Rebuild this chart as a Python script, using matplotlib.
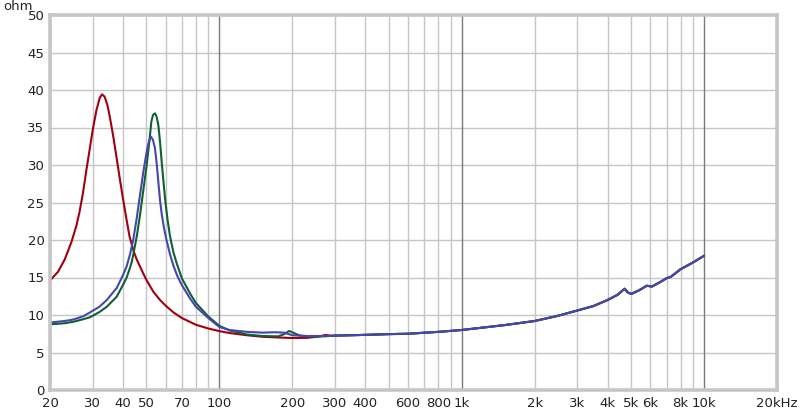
import matplotlib
matplotlib.use("Agg")
import matplotlib.pyplot as plt
from matplotlib.ticker import FixedLocator, NullFormatter

# ---- data ----
hf_freq = [300, 400, 500, 600, 800, 1000, 1500, 2000, 2500, 3000, 3500, 4000,
           4400, 4700, 4850, 5000, 5400, 5800, 6100, 6600, 7000, 7300, 8000, 9000, 10000]
hf_ohm = [7.25, 7.35, 7.45, 7.5, 7.75, 8.0, 8.65, 9.2, 9.9, 10.6, 11.2, 12.0,
          12.7, 13.5, 13.0, 12.8, 13.3, 13.9, 13.8, 14.4, 14.9, 15.1, 16.1, 17.0, 17.9]

red_freq = [20.1, 21.6, 23.0, 24.5, 25.7, 26.5, 27.4, 28.25, 29.2, 30.1, 31.1, 32.1,
            32.8, 33.6, 34.5, 35.3, 36.4, 37.6, 38.8, 40.0, 41.3, 42.6, 44.4, 45.6,
            48.4, 50.0, 53.4, 56.9, 60.0, 64.6, 70.0, 80.0, 90.0, 100, 110, 130,
            150, 175, 200, 230, 260, 275, 290]
red_ohm = [14.67, 15.78, 17.4, 19.7, 21.9, 23.8, 26.4, 29.3, 32.22, 34.89, 37.33, 38.98,
           39.42, 39.11, 38.0, 36.44, 34.0, 31.11, 28.22, 25.56, 22.89, 20.44, 18.4, 17.4,
           15.6, 14.67, 13.1, 12.0, 11.25, 10.35, 9.6, 8.7, 8.2, 7.85, 7.6, 7.3,
           7.1, 7.0, 6.93, 6.95, 7.15, 7.35, 7.2]

green_freq = [20, 23, 25, 27.5, 29.25, 32, 34.3, 37.7, 40.0, 41.44, 42.78, 43.5, 44.15, 45.58,
              47.04, 48.56, 50.12, 51.4, 52.39, 53.21, 54.23, 55.1, 55.98, 56.88, 57.79,
              58.71, 59.66, 61.0, 62.55, 64.57, 66.65, 70.0, 75.6, 80.0, 90.0,
              100, 110, 130, 150, 175, 185, 194, 203, 215, 240, 270]
green_ohm = [8.75, 8.9, 9.1, 9.45, 9.7, 10.4, 11.1, 12.44, 14.0, 15.0, 16.3, 17.1, 18.1, 20.44,
             23.33, 26.67, 30.0, 33.11, 35.78, 36.67, 36.89, 36.44, 35.33, 33.11, 30.44,
             28.0, 25.56, 22.89, 20.5, 18.4, 16.9, 14.89, 12.89, 11.6, 9.8,
             8.55, 7.95, 7.4, 7.2, 7.15, 7.45, 7.87, 7.6, 7.25, 7.1, 7.15]

blue_freq = [20, 23, 25, 27.5, 29.25, 32, 34.3, 37.7, 40.0, 41.44, 42.78, 44.15, 45.58,
             47.04, 48.56, 50.12, 51.22, 52.21, 53.21, 54.23, 55.1, 55.98, 56.88, 57.79,
             59.08, 60.6, 62.55, 64.57, 67.07, 70.0, 75.6, 80.0, 90.0, 100, 110, 130,
             150, 170, 185, 200, 230, 260]
blue_ohm = [9.0, 9.2, 9.4, 9.85, 10.35, 11.1, 12.0, 13.6, 15.3, 16.5, 18.1, 20.1, 22.89,
            26.0, 29.11, 31.78, 33.2, 33.78, 33.33, 32.22, 30.22, 27.78, 25.33, 23.5,
            21.6, 19.9, 18.1, 16.6, 15.2, 14.0, 12.22, 11.1, 9.6, 8.4, 8.0, 7.75,
            7.65, 7.7, 7.65, 7.3, 7.2, 7.2]

x_ticks = [20, 30, 40, 50, 70, 100, 200, 300, 400, 600, 800, 1000,
           2000, 3000, 4000, 5000, 6000, 8000, 10000, 20000]
x_tick_labels = ["20", "30", "40", "50", "70", "100", "200", "300", "400", "600", "800", "1k",
                 "2k", "3k", "4k", "5k", "6k", "8k", "10k", "20kHz"]
y_ticks = [0, 5, 10, 15, 20, 25, 30, 35, 40, 45, 50]

series = [
    (red_freq + hf_freq, red_ohm + hf_ohm, "#a00010"),
    (green_freq + hf_freq, green_ohm + hf_ohm, "#106033"),
    (blue_freq + hf_freq, blue_ohm + hf_ohm, "#4646ae"),
]

plt.rcParams['font.family'] = ['DejaVu Sans']
fig = plt.figure(figsize=(8.0, 4.12), dpi=100)
ax = fig.add_axes([50 / 800, 22 / 412, 727 / 800, 375 / 412])
ax.set_xscale("log")
ax.set_xlim(20, 20000)
ax.set_ylim(0, 50)

# grid
minor_grid = [m * d for d in (10, 100, 1000) for m in range(2, 10)] + [20000]
minor_grid = [v for v in minor_grid if 20 <= v <= 20000]
for v in minor_grid:
    ax.axvline(v, color="#c6c6c6", lw=1.0, zorder=0)
for v in (100, 1000, 10000):
    ax.axvline(v, color="#7a7a7a", lw=1.0, zorder=0.5)
for v in y_ticks:
    ax.axhline(v, color="#c6c6c6", lw=1.0, zorder=0)

for f, o, c in series:
    ax.plot(f, o, color=c, lw=1.5, solid_joinstyle="round", solid_capstyle="round", zorder=2)

ax.xaxis.set_major_locator(FixedLocator(x_ticks))
ax.set_xticklabels(x_tick_labels)
ax.xaxis.set_minor_locator(FixedLocator([]))
ax.xaxis.set_minor_formatter(NullFormatter())
ax.set_yticks(y_ticks)
ax.tick_params(axis="both", length=0, labelsize=9.5, colors="#222222")
ax.tick_params(axis="x", pad=5)
ax.tick_params(axis="y", pad=4)

for s in ax.spines.values():
    s.set_color("#c6c6c6")
    s.set_linewidth(2.6)

fig.text(18 / 800, 1 - 6 / 412, "ohm", ha="center", va="center", fontsize=9.5, color="#222222")

fig.savefig("out.png", dpi=100)
